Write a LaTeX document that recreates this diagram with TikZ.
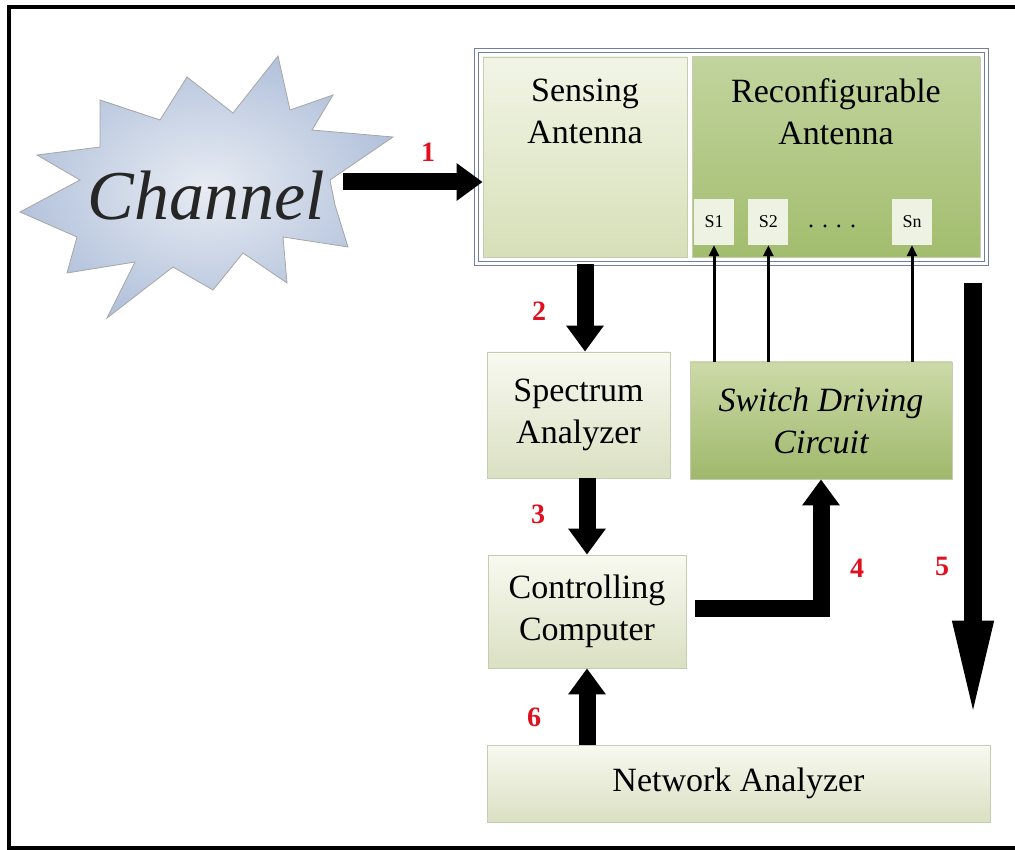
\documentclass[tikz,border=0pt]{standalone}
\usepackage{fontspec}
\setmainfont{Liberation Serif}
\usepackage{tikz}
\usetikzlibrary{arrows.meta,positioning,fit}
\usepackage{xcolor}

\definecolor{paletop}{HTML}{F8F9F0}
\definecolor{palebot}{HTML}{DAE0C2}
\definecolor{boxedge}{HTML}{C6CCB0}
\definecolor{senstop}{HTML}{F2F5E6}
\definecolor{sensbot}{HTML}{D7DFB8}
\definecolor{recotop}{HTML}{C2D49E}
\definecolor{recobot}{HTML}{A2BD6E}
\definecolor{drvtop}{HTML}{CCDAA8}
\definecolor{drvbot}{HTML}{9FB86B}
\definecolor{swfill}{HTML}{EEF2E2}
\definecolor{frameblue}{HTML}{6F7FA3}
\definecolor{numred}{HTML}{E0101E}
\definecolor{starin}{HTML}{E8ECF3}
\definecolor{starout}{HTML}{B4C3DC}

\begin{document}
\begin{tikzpicture}[x=1pt, y=-1pt,
    box/.style={rectangle, draw=boxedge, line width=0.8pt, top color=paletop, bottom color=palebot, font=\fontsize{34}{42}\selectfont, align=center, inner sep=0pt},
    greenbox/.style={box, top color=recotop, bottom color=recobot},
    txt/.style={font=\fontsize{34}{42}\selectfont, align=center, inner sep=0pt},
    sw/.style={rectangle, fill=swfill, minimum width=40pt, minimum height=46pt, font=\fontsize{18}{20}\selectfont, inner sep=0pt},
    frame/.style={draw=frameblue, line width=1.6pt, double=white, double distance=2.5pt},
    bigarrow/.style={line width=17pt, -{Triangle[length=26pt,width=36pt]}},
    thinarrow/.style={line width=3pt, -{Triangle[length=11pt,width=10pt]}},
    num/.style={text=numred, font=\fontsize{28}{28}\selectfont\bfseries, inner sep=0pt}
]
    \useasboundingbox (0,0) rectangle (1015,850);

    % outer border (open on the right)
    \draw[line width=4pt] (1030,7) -| (9,848) -- (1030,848);

    % Channel burst
    \draw[draw=gray!70, line width=0.8pt, inner color=starin, outer color=starout]
        (278,56) -- (290,110) -- (333,95) -- (312,130) -- (393,137) -- (330,180)
        -- (335,205) -- (348,247) -- (283,237) -- (287,283) -- (243,253)
        -- (213,290) -- (173,267) -- (107,318) -- (135,262) -- (67,273)
        -- (77,237) -- (20,212) -- (80,180) -- (37,155) -- (100,147)
        -- (100,100) -- (160,120) -- (187,77) -- (233,113) -- cycle;
    \node[font=\fontsize{70}{70}\selectfont\itshape, text=black!85] (chan) at (206,196) {Channel};

    % Antenna block
    \node[box, minimum width=204pt, minimum height=200pt, top color=senstop, bottom color=sensbot] (sens) at (585,157) {};
    \node[greenbox, minimum width=288pt, minimum height=200pt] (reco) at (836,157) {};
    \node[frame, fit=(sens)(reco), inner sep=6pt] (frm) {};
    \node[txt, below=22pt of sens.north] (sensT) {Sensing\\Antenna};
    \node[txt, below=22pt of reco.north] (recoT) {Reconfigurable\\Antenna};

    % switches
    \node[sw] (s1) at (714,222) {S1};
    \node[sw, right=14pt of s1] (s2) {S2};
    \node[sw] (sn) at (912,222) {Sn};
    \node[font=\fontsize{24}{24}\selectfont, inner sep=0pt] (dots) at (832,226) {.\,\,.\,\,.\,\,.};

    % processing blocks
    \node[box, minimum width=183pt, minimum height=126pt] (spec) at (578.5,415) {Spectrum\\Analyzer};
    \node[box, minimum width=262pt, minimum height=117pt, top color=drvtop, bottom color=drvbot, font=\fontsize{34}{42}\selectfont\itshape] (drv) at (821,420.5) {Switch Driving\\Circuit};
    \node[box, minimum width=198pt, minimum height=113pt] (ctrl) at (587,611.5) {Controlling\\Computer};
    \node[box, minimum width=503pt, minimum height=77pt] (net) at (738.5,783.5) {Network Analyzer};

    % free ends
    \coordinate (chanOut) at (343,182);
    \coordinate (ctrlOut) at (695,608);
    \coordinate (recoOut) at (973,283);

    % Arrows
    \draw[bigarrow] (chanOut) -- (chanOut -| sens.west);
    \draw[bigarrow] (frm.south -| sens.south) -- (sens.south |- spec.north);
    \draw[bigarrow] (spec.south -| ctrl.north) -- (ctrl.north);
    \draw[bigarrow] (ctrlOut) -| (drv.south);
    \draw[line width=18pt, -{Triangle[length=102pt,width=36pt]}, shorten >=22pt] (recoOut) -- (recoOut |- net.north);
    \draw[bigarrow] (net.north -| ctrl.south) -- (ctrl.south);
    \draw[thinarrow] (drv.north -| s1.south) -- (s1.south);
    \draw[thinarrow] (drv.north -| s2.south) -- (s2.south);
    \draw[thinarrow] (drv.north -| sn.south) -- (sn.south);

    % step numbers
    \node[num] (n1) at (428,152) {1};
    \node[num] (n2) at (539,311) {2};
    \node[num] (n3) at (538,514) {3};
    \node[num] (n4) at (857,568) {4};
    \node[num] (n5) at (942,566) {5};
    \node[num] (n6) at (534,717) {6};

\end{tikzpicture}
\end{document}
